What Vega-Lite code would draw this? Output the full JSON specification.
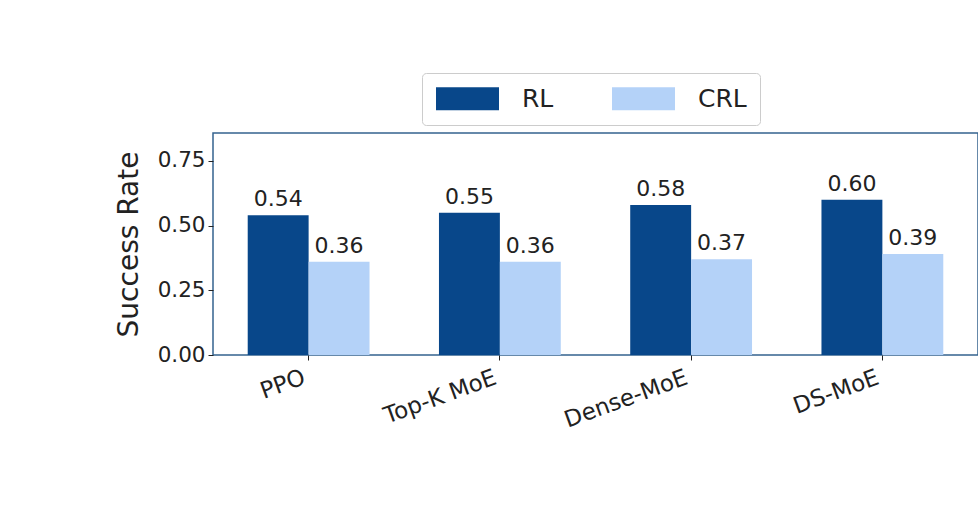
{
  "$schema": "https://vega.github.io/schema/vega-lite/v6.json",
  "autosize": "none",
  "width": 765,
  "height": 222,
  "padding": {"left": 213, "top": 133, "right": 0, "bottom": 167},
  "background": "white",
  "config": {
    "font": "DejaVu Sans",
    "view": {"stroke": "#35638f", "strokeWidth": 1.5},
    "axis": {"domain": false, "grid": false, "tickColor": "#222222", "tickSize": 5, "labelColor": "#222222", "titleColor": "#222222", "labelFont": "DejaVu Sans", "titleFont": "DejaVu Sans"}
  },
  "data": {
    "values": [
      {"method": "PPO", "type": "RL", "value": 0.54},
      {"method": "PPO", "type": "CRL", "value": 0.36},
      {"method": "Top-K MoE", "type": "RL", "value": 0.55},
      {"method": "Top-K MoE", "type": "CRL", "value": 0.36},
      {"method": "Dense-MoE", "type": "RL", "value": 0.58},
      {"method": "Dense-MoE", "type": "CRL", "value": 0.37},
      {"method": "DS-MoE", "type": "RL", "value": 0.60},
      {"method": "DS-MoE", "type": "CRL", "value": 0.39}
    ]
  },
  "encoding": {
    "x": {
      "field": "method", "type": "nominal", "sort": ["PPO", "Top-K MoE", "Dense-MoE", "DS-MoE"],
      "scale": {"paddingInner": 0, "paddingOuter": 0},
      "axis": {"title": null, "labelAngle": -20, "labelFontSize": 23, "labelPadding": 6, "labelOffset": -8, "labelAlign": "right", "labelBaseline": "top"}
    },
    "xOffset": {
      "field": "type", "type": "nominal",
      "scale": {"domain": ["RL", "CRL"], "paddingInner": 0, "paddingOuter": 0.57}
    },
    "y": {
      "field": "value", "type": "quantitative",
      "scale": {"domain": [0, 0.858], "nice": false},
      "axis": {"title": "Success Rate", "values": [0, 0.25, 0.5, 0.75], "format": ".2f", "labelFontSize": 21.5, "titleFontSize": 28, "titleFontWeight": "normal", "labelPadding": 3, "titlePadding": 14}
    }
  },
  "layer": [
    {
      "mark": {"type": "bar"},
      "encoding": {
        "color": {
          "field": "type", "type": "nominal",
          "scale": {"domain": ["RL", "CRL"], "range": ["#08478a", "#b4d2f8"]},
          "legend": {
            "title": null, "orient": "none", "legendX": 209, "legendY": -60, "direction": "horizontal",
            "padding": 13, "strokeColor": "#cccccc", "fillColor": "white", "cornerRadius": 4,
            "symbolType": "M-1,-1L4.478,-1L4.478,1L-1,1Z", "symbolSize": 529,
            "symbolStrokeWidth": 0, "symbolOpacity": 1,
            "labelFontSize": 25, "labelOffset": 62, "columnPadding": 57, "labelColor": "#222222"
          }
        }
      }
    },
    {
      "mark": {"type": "text", "baseline": "bottom", "dy": -4, "fontSize": 22, "color": "#222222"},
      "encoding": {"text": {"field": "value", "type": "quantitative", "format": ".2f"}}
    }
  ]
}
